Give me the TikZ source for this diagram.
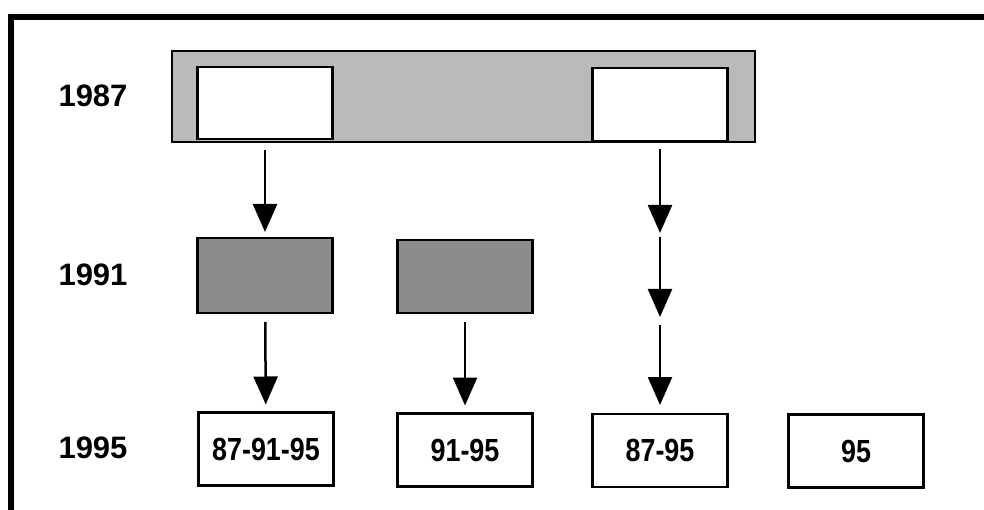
\documentclass[tikz,border=0pt]{standalone}
\usepackage{graphicx}
\usepackage{fontspec}
\setmainfont{Liberation Sans}
\usetikzlibrary{arrows.meta}
\usetikzlibrary{shapes}

\newcommand{\yearfont}{\fontsize{31}{31}\selectfont\bfseries}
\newcommand{\boxlabel}[1]{\scalebox{0.84}[1]{\fontsize{32}{32}\selectfont\bfseries #1}}

\begin{document}
\begin{tikzpicture}[x=1pt, y=-1pt, >={Triangle[length=28pt, width=24pt]},
    every edge/.style={draw=black, line width=2.5pt},
    every node/.style={inner sep=0pt, outer sep=0pt},
    tile/.style={draw, rectangle, line width=2.5pt, minimum width=135pt, minimum height=73pt}]
        \useasboundingbox (0,0) rectangle (984,510);
        \draw[line width=5.5pt] (11,510) -- (11,17) -- (984,17);

        % 1987
        \node[font=\yearfont] (L87) at (93, 96) {1987};
        \node[tile, fill=black!27, minimum width=583pt, minimum height=91pt] (Y87) at (463.5, 96.5) {};
        \node[tile, fill=white, minimum height=72pt] (A) at (265, 103) {};
        \node[tile, fill=white] (B) at (660, 104.5) {};

        % 1991
        \node[font=\yearfont] (L91) at (93, 275) {1991};
        \node[tile, fill=black!45, minimum height=75pt] (G1) at (265, 275.5) {};
        \node[tile, fill=black!45] (G2) at (465, 276.5) {};
        \coordinate (c1) at (660, 235);
        \coordinate (c2) at (660, 321);

        % 1995
        \node[font=\yearfont] (L95) at (93, 448) {1995};
        \node[tile] (E1) at (266, 449) {\boxlabel{87-91-95}};
        \node[tile] (E2) at (465, 450) {\boxlabel{91-95}};
        \node[tile] (E3) at (660, 450.5) {\boxlabel{87-95}};
        \node[tile] (E4) at (856, 451) {\boxlabel{95}};

        \path [->, shorten <=11pt, shorten >=6pt](A) edge (G1);
        \path [->, shorten <=9pt, shorten >=8pt](G1) edge (E1);
        \path [->, shorten <=9pt, shorten >=8pt](G2) edge (E2);

        \path [->, shorten <=8pt, shorten >=2pt](B) edge (c1);
        \path [->, shorten <=2pt, shorten >=4pt](c1) edge (c2);
        \path [->, shorten <=4pt, shorten >=9pt](c2) edge (E3);

    \end{tikzpicture}
\end{document}
